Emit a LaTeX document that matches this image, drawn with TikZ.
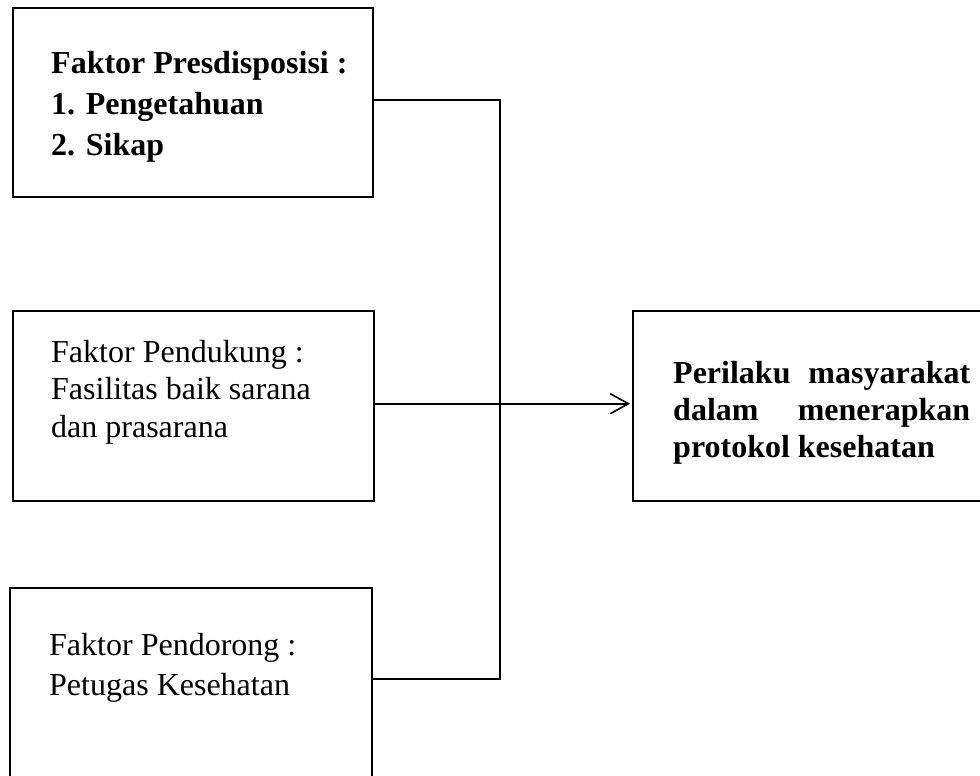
\documentclass[tikz,border=0pt]{standalone}
\usepackage{fontspec}
\setmainfont{Liberation Serif}
\usetikzlibrary{arrows.meta}
\begin{document}
\begin{tikzpicture}[x=1pt,y=-1pt,
  box/.style={draw, line width=2.4pt, rectangle, inner sep=0pt, anchor=north west},
  conn/.style={line width=1.6pt},
  lbl/.style={anchor=base west, inner sep=0pt, align=left},
  arr/.style={-{Straight Barb[length=18pt,width=20pt,line width=1.6pt]}}]
\useasboundingbox (0,0) rectangle (980,776);
\fill[white] (0,0) rectangle (980,776);
% boxes
\node[box, minimum width=360pt, minimum height=189pt] (b1) at (12,7) {};
\node[box, minimum width=361pt, minimum height=190pt] (b2) at (12,310) {};
\node[box, minimum width=362pt, minimum height=200pt] (b3) at (9,587) {};
\node[box, minimum width=360pt, minimum height=190pt] (b4) at (632,310) {};
% texts (anchor = baseline of the last line)
\node[lbl, font=\fontsize{32}{41}\selectfont\bfseries] (t1) at (51,155)
  {Faktor Presdisposisi :\\1. Pengetahuan\\2. Sikap};
\node[lbl, font=\fontsize{32}{37.5}\selectfont] (t2) at (51,437)
  {Faktor Pendukung :\\Fasilitas baik sarana\\dan prasarana};
\node[lbl, font=\fontsize{32}{40}\selectfont] (t3) at (49,695)
  {Faktor Pendorong :\\Petugas Kesehatan};
\node[lbl, font=\fontsize{32}{37}\selectfont\bfseries] (t4) at (673,457)
  {\makebox[297pt][s]{Perilaku\hfill masyarakat}\\\makebox[297pt][s]{dalam\hfill menerapkan}\\protokol kesehatan};
% connectors
\coordinate (jx) at (500,0);
\coordinate (b1e) at ([yshift=2.5pt]b1.east);
\coordinate (b3e) at ([yshift=9pt]b3.east);
\coordinate (b2e) at ([yshift=2.5pt]b2.east);
\coordinate (b4w) at ([yshift=2.5pt]b4.west);
\draw[conn] (b1e) -| (jx |- b3e) -- (b3e);
\draw[conn, arr, shorten >=2pt] (b2e) -- (b4w);
\end{tikzpicture}
\end{document}
